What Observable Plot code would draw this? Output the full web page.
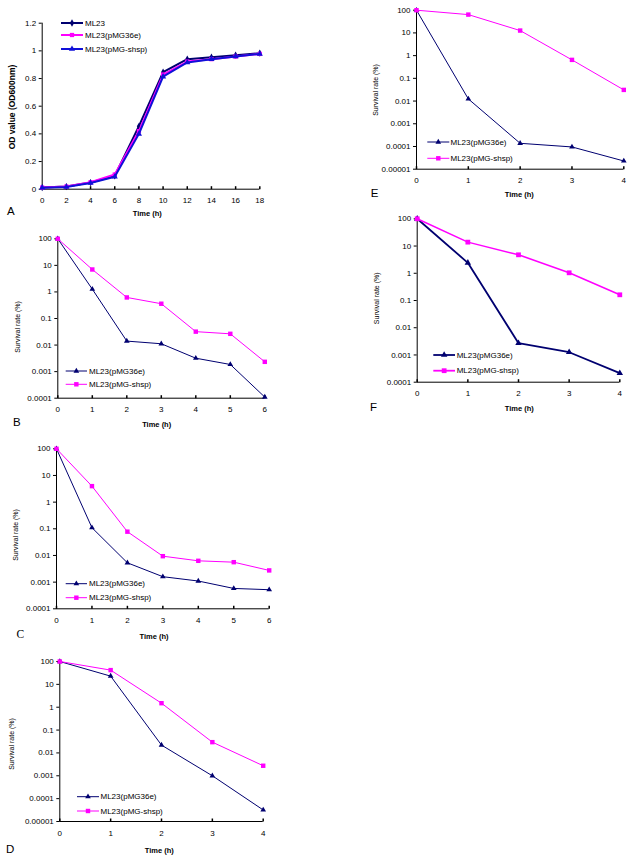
<!DOCTYPE html>
<html>
<head>
<meta charset="utf-8">
<script src="https://cdn.jsdelivr.net/npm/d3@7"></script>
<script src="https://cdn.jsdelivr.net/npm/@observablehq/plot@0.6"></script>
<style>
  html, body { margin: 0; padding: 0; background: #fff; }
  #root { position: relative; width: 630px; height: 859px; overflow: hidden; background: #fff; }
  #root svg { position: absolute; left: 0; top: 0; }
</style>
</head>
<body>
<div id="root"></div>
<script>
// ---------------- DATA ----------------
// Panel A: growth curves (OD600)
const timeA = [0, 2, 4, 6, 8, 10, 12, 14, 16, 18];
const odML23 = [0.012, 0.019, 0.048, 0.096, 0.455, 0.846, 0.94, 0.954, 0.969, 0.983];
const odPMG36e = [0.012, 0.019, 0.05, 0.106, 0.42, 0.829, 0.923, 0.94, 0.959, 0.978];
const odPMGshsp = [0.01, 0.016, 0.045, 0.09, 0.40, 0.814, 0.916, 0.94, 0.959, 0.978];
const ticksA_x = [0, 2, 4, 6, 8, 10, 12, 14, 16, 18];
const ticksA_y = [0, 0.2, 0.4, 0.6, 0.8, 1, 1.2];
const labelsA_y = ["0", "0.2", "0.4", "0.6", "0.8", "1", "1.2"];

// Panels B-F: survival rate (%)
const time6 = [0, 1, 2, 3, 4, 5, 6];
const time4 = [0, 1, 2, 3, 4];
const survB36e = [100, 1.27, 0.0141, 0.0112, 0.0032, 0.00186, 0.00011];
const survBshsp = [100, 7.0, 0.62, 0.36, 0.032, 0.0265, 0.00234];
const survC36e = [100, 0.11, 0.0053, 0.0016, 0.0011, 0.00058, 0.00052];
const survCshsp = [100, 3.98, 0.078, 0.0094, 0.0063, 0.0056, 0.00275];
const survD36e = [100, 22.9, 0.022, 0.001, 0.000032];
const survDshsp = [100, 42, 1.5, 0.0296, 0.00275];
const survE36e = [100, 0.0124, 0.000138, 0.0000955, 0.000023];
const survEshsp = [100, 64, 12.7, 0.65, 0.031];
const survF36e = [100, 2.42, 0.0027, 0.00126, 0.000214];
const survFshsp = [100, 13.9, 4.76, 1.04, 0.162];

const logTicks4 = [0.0001, 0.001, 0.01, 0.1, 1, 10, 100];
const logLabels4 = ["0.0001", "0.001", "0.01", "0.1", "1", "10", "100"];
const logTicks5 = [0.00001, 0.0001, 0.001, 0.01, 0.1, 1, 10, 100];
const logLabels5 = ["0.00001", "0.0001", "0.001", "0.01", "0.1", "1", "10", "100"];

const nameML23 = "ML23";
const name36e = "ML23(pMG36e)";
const nameShsp = "ML23(pMG-shsp)";
const xTitle = "Time (h)";
const yTitleA = "OD value (OD600nm)";
const yTitleS = "Survival rate (%)";

// ---------------- STYLE ----------------
const NAVY = "#000070";
const MAGENTA = "#ff00ff";
const BLUE = "#1010d8";
const FONT = "'Liberation Sans', Arial, sans-serif";
const W = 630, H = 859;
const root = document.getElementById("root");

const vTick = { draw(ctx) { ctx.moveTo(0, 0); ctx.lineTo(0, -3); } };

const symbolMap = { triangle: d3.symbolTriangle, square: d3.symbolSquare, diamond: d3.symbolDiamond };

function addPanel(cfg) {
  const yMap = new Map(cfg.yTicks.map((v, i) => [v, cfg.yTickLabels[i]]));
  const marks = [
    Plot.ruleX([cfg.xDomain[0]], { stroke: "#000", strokeWidth: 1 }),
    Plot.ruleY([cfg.yDomain[0]], { stroke: "#000", strokeWidth: 1 }),
    Plot.dot(cfg.xTicks, { x: d => d, frameAnchor: "bottom", symbol: vTick, stroke: "#000", fill: "none" })
  ];
  for (const s of cfg.series) {
    const data = s.x.map((t, i) => ({ t, v: s.y[i] }));
    marks.push(Plot.line(data, { x: "t", y: "v", stroke: s.color, strokeWidth: s.width }));
    marks.push(Plot.dot(data, { x: "t", y: "v", symbol: s.symbol, fill: s.color, stroke: "none", r: s.r }));
  }
  const svg = Plot.plot({
    width: W, height: H,
    marginLeft: cfg.left, marginRight: W - cfg.right,
    marginTop: cfg.top, marginBottom: H - cfg.bottom,
    style: { background: "transparent", fontFamily: FONT, fontSize: "8px", color: "#000", overflow: "visible" },
    x: { domain: cfg.xDomain, ticks: cfg.xTicks, tickSize: 0, tickPadding: 8.5, tickFormat: d => String(d), label: null },
    y: { type: cfg.yType, domain: cfg.yDomain, ticks: cfg.yTicks, tickSize: 3, tickPadding: 3,
         tickFormat: d => yMap.get(d) ?? "", label: null },
    marks
  });
  root.appendChild(svg);
  const g = d3.select(svg).append("g").attr("font-family", FONT).attr("fill", "#000").attr("text-anchor", "start");
  // axis titles
  g.append("text").attr("x", cfg.xTitlePos[0]).attr("y", cfg.xTitlePos[1])
    .attr("text-anchor", "middle").attr("dominant-baseline", "central")
    .attr("font-weight", "bold").attr("font-size", 7.5).text(xTitle);
  g.append("text").attr("transform", `translate(${cfg.yTitlePos[0]},${cfg.yTitlePos[1]}) rotate(-90)`)
    .attr("text-anchor", "middle").attr("dominant-baseline", "central")
    .attr("font-weight", cfg.yTitleBold ? "bold" : "normal").attr("font-size", cfg.yTitleSize)
    .text(cfg.yTitle);
  // panel letter
  g.append("text").attr("x", cfg.letterPos[0]).attr("y", cfg.letterPos[1])
    .attr("text-anchor", "start").attr("dominant-baseline", "central").attr("font-size", 11.5)
    .attr("font-family", cfg.letterSerif ? "'Liberation Serif', 'Times New Roman', serif" : FONT)
    .text(cfg.letter);
  // legend
  const lg = cfg.legend;
  cfg.series.forEach((s, i) => {
    const y = lg.rows[i];
    g.append("line").attr("x1", lg.x0).attr("x2", lg.x1).attr("y1", y).attr("y2", y)
      .attr("stroke", s.color).attr("stroke-width", lg.width);
    g.append("path").attr("transform", `translate(${(lg.x0 + lg.x1) / 2},${y})`)
      .attr("d", d3.symbol(symbolMap[s.symbol], s.r * s.r * Math.PI)()).attr("fill", s.color);
    g.append("text").attr("x", lg.tx).attr("y", y).attr("text-anchor", "start")
      .attr("dominant-baseline", "central").attr("font-size", 8).text(s.name);
  });
}

// Panel A
addPanel({
  left: 41.7, right: 259.3, top: 22.7, bottom: 188.7,
  xDomain: [0, 18], yDomain: [0, 1.2], yType: "linear",
  xTicks: ticksA_x, yTicks: ticksA_y, yTickLabels: labelsA_y,
  series: [
    { name: nameML23, x: timeA, y: odML23, color: NAVY, width: 2, symbol: "diamond", r: 2.2 },
    { name: name36e, x: timeA, y: odPMG36e, color: MAGENTA, width: 2, symbol: "square", r: 2.4 },
    { name: nameShsp, x: timeA, y: odPMGshsp, color: BLUE, width: 2, symbol: "triangle", r: 2.3 }
  ],
  xTitlePos: [147.3, 213.3], yTitlePos: [11.7, 107], yTitle: yTitleA, yTitleBold: true, yTitleSize: 8.5,
  letter: "A", letterPos: [7, 211],
  legend: { x0: 61, x1: 83, tx: 85, rows: [23, 35, 49], width: 2 }
});

// Panel B
addPanel({
  left: 57.3, right: 264.3, top: 238.3, bottom: 397.7,
  xDomain: [0, 6], yDomain: [0.0001, 100], yType: "log",
  xTicks: time6, yTicks: logTicks4, yTickLabels: logLabels4,
  series: [
    { name: name36e, x: time6, y: survB36e, color: NAVY, width: 1, symbol: "triangle", r: 2.1 },
    { name: nameShsp, x: time6, y: survBshsp, color: MAGENTA, width: 1, symbol: "square", r: 2.5 }
  ],
  xTitlePos: [156.7, 424], yTitlePos: [17, 327], yTitle: yTitleS, yTitleBold: false, yTitleSize: 7,
  letter: "B", letterPos: [13, 421.7],
  legend: { x0: 65.7, x1: 87, tx: 89, rows: [371, 384.3], width: 1 }
});

// Panel C
addPanel({
  left: 56, right: 268.7, top: 448.3, bottom: 608.3,
  xDomain: [0, 6], yDomain: [0.0001, 100], yType: "log",
  xTicks: time6, yTicks: logTicks4, yTickLabels: logLabels4,
  series: [
    { name: name36e, x: time6, y: survC36e, color: NAVY, width: 1, symbol: "triangle", r: 2.1 },
    { name: nameShsp, x: time6, y: survCshsp, color: MAGENTA, width: 1, symbol: "square", r: 2.5 }
  ],
  xTitlePos: [154, 636.7], yTitlePos: [15.5, 535], yTitle: yTitleS, yTitleBold: false, yTitleSize: 7,
  letter: "C", letterPos: [16.5, 634], letterSerif: true,
  legend: { x0: 65.7, x1: 87, tx: 89, rows: [583.7, 597.7], width: 1 }
});

// Panel D
addPanel({
  left: 59.3, right: 262.7, top: 661, bottom: 821,
  xDomain: [0, 4], yDomain: [0.00001, 100], yType: "log",
  xTicks: time4, yTicks: logTicks5, yTickLabels: logLabels5,
  series: [
    { name: name36e, x: time4, y: survD36e, color: NAVY, width: 1, symbol: "triangle", r: 2.1 },
    { name: nameShsp, x: time4, y: survDshsp, color: MAGENTA, width: 1, symbol: "square", r: 2.5 }
  ],
  xTitlePos: [159.3, 850.7], yTitlePos: [11, 744], yTitle: yTitleS, yTitleBold: false, yTitleSize: 7,
  letter: "D", letterPos: [6, 849],
  legend: { x0: 77, x1: 99, tx: 100.5, rows: [796.7, 811], width: 1 }
});

// Panel E
addPanel({
  left: 416, right: 623.3, top: 9.7, bottom: 168.7,
  xDomain: [0, 4], yDomain: [0.00001, 100], yType: "log",
  xTicks: time4, yTicks: logTicks5, yTickLabels: logLabels5,
  series: [
    { name: name36e, x: time4, y: survE36e, color: NAVY, width: 1, symbol: "triangle", r: 2.1 },
    { name: nameShsp, x: time4, y: survEshsp, color: MAGENTA, width: 1, symbol: "square", r: 2.5 }
  ],
  xTitlePos: [519.3, 194], yTitlePos: [375.5, 90], yTitle: yTitleS, yTitleBold: false, yTitleSize: 7,
  letter: "E", letterPos: [370.7, 192.7],
  legend: { x0: 427.3, x1: 449.3, tx: 450.5, rows: [142, 158.3], width: 1 }
});

// Panel F
addPanel({
  left: 416.7, right: 619.3, top: 218.3, bottom: 381.7,
  xDomain: [0, 4], yDomain: [0.0001, 100], yType: "log",
  xTicks: time4, yTicks: logTicks4, yTickLabels: logLabels4,
  series: [
    { name: name36e, x: time4, y: survF36e, color: NAVY, width: 1.8, symbol: "triangle", r: 2.4 },
    { name: nameShsp, x: time4, y: survFshsp, color: MAGENTA, width: 1.5, symbol: "square", r: 2.7 }
  ],
  xTitlePos: [519.3, 408.3], yTitlePos: [376, 298.3], yTitle: yTitleS, yTitleBold: false, yTitleSize: 7,
  letter: "F", letterPos: [370, 406.7],
  legend: { x0: 433.3, x1: 455, tx: 456.7, rows: [355, 370.7], width: 1.8 }
});
</script>
</body>
</html>
